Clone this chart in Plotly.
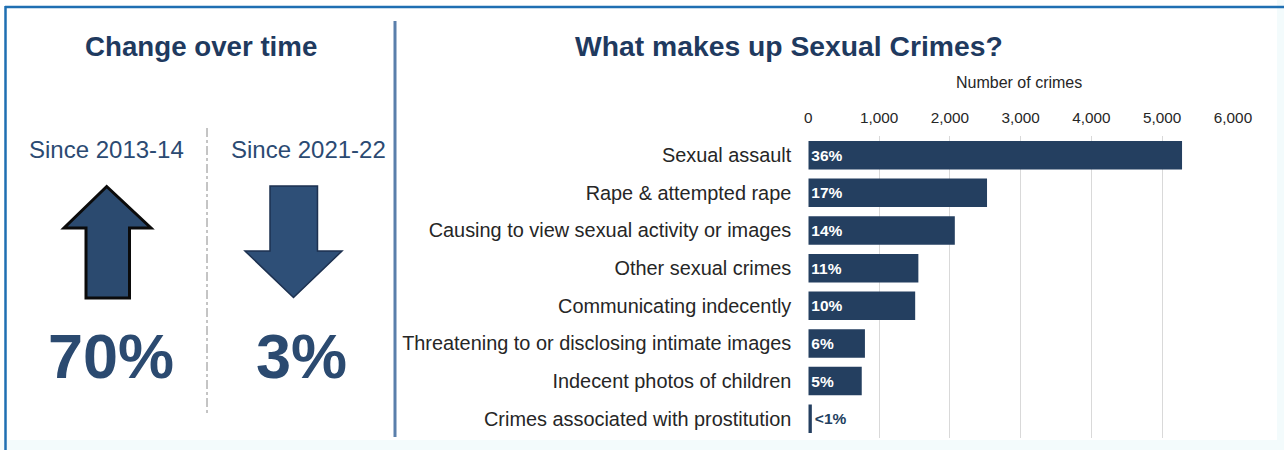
import plotly.graph_objects as go

W, H = 1284, 450

# ---- data -------------------------------------------------------------
categories = [
    "Sexual assault",
    "Rape & attempted rape",
    "Causing to view sexual activity or images",
    "Other sexual crimes",
    "Communicating indecently",
    "Threatening to or disclosing intimate images",
    "Indecent photos of children",
    "Crimes associated with prostitution",
]
crime_counts = [5280, 2525, 2070, 1555, 1510, 800, 755, 50]
share_labels = ["36%", "17%", "14%", "11%", "10%", "6%", "5%", "<1%"]
x_ticks = [0, 1000, 2000, 3000, 4000, 5000, 6000]

change_periods = ["Since 2013-14", "Since 2021-22"]
change_values = ["70%", "3%"]

# ---- styling ----------------------------------------------------------
FONT = "Arial, Liberation Sans, sans-serif"
NAVY = "#1f3a5f"
BAR = "#243f60"
NUM = "#2b4a70"


def px(x):
    return x / W


def py(y):
    return 1 - y / H


def path(points):
    pts = [f"{px(x):.5f},{py(y):.5f}" for x, y in points]
    return "M " + " L ".join(pts) + " Z"


fig = go.Figure()

# label inside the bar where it fits, outside for the tiny bar
positions = ["inside" if c > 300 else "outside" for c in crime_counts]
fig.add_trace(go.Bar(
    x=crime_counts,
    y=categories,
    orientation="h",
    marker=dict(color=BAR, line=dict(width=0)),
    text=[s.replace("<", "&lt;") for s in share_labels],
    textposition=positions,
    insidetextanchor="start",
    insidetextfont=dict(family=FONT, size=15.5, color="white", weight="bold"),
    outsidetextfont=dict(family=FONT, size=15.5, color=BAR, weight="bold"),
    cliponaxis=False,
    hoverinfo="x+y",
))

shapes = []
# panel background and frame
shapes.append(dict(type="rect", xref="paper", yref="paper", layer="below",
                   x0=0, x1=px(1277), y0=py(440), y1=1,
                   fillcolor="white", line=dict(width=0)))
shapes.append(dict(type="line", xref="paper", yref="paper",
                   x0=px(5), x1=1, y0=py(7), y1=py(7),
                   line=dict(color="#1f6fb2", width=2.5)))
shapes.append(dict(type="line", xref="paper", yref="paper",
                   x0=px(5.5), x1=px(5.5), y0=py(6), y1=0,
                   line=dict(color="#1f6fb2", width=2.5)))
# divider between the two panels
shapes.append(dict(type="line", xref="paper", yref="paper",
                   x0=px(395), x1=px(395), y0=py(21), y1=py(437),
                   line=dict(color="#5a7fab", width=3)))
# dash-dot divider between the two change figures
shapes.append(dict(type="line", xref="paper", yref="paper",
                   x0=px(207), x1=px(207), y0=py(128), y1=py(416),
                   line=dict(color="#8a8a8a", width=1, dash="dashdot")))

# up arrow
up = [(106.7, 186.5), (151, 228), (129.5, 228), (129.5, 298),
      (86, 298), (86, 228), (64, 228)]
shapes.append(dict(type="path", xref="paper", yref="paper", path=path(up),
                   fillcolor="#2b4a6f", line=dict(color="#0b0b0b", width=3)))
# down arrow
down = [(270, 186), (317.5, 186), (317.5, 251), (342, 251),
        (293.5, 297.5), (245, 251), (270, 251)]
shapes.append(dict(type="path", xref="paper", yref="paper", path=path(down),
                   fillcolor="#2e4f77", line=dict(color="#1d3150", width=1.5)))

annotations = []
annotations.append(dict(text="<b>Change over time</b>", x=px(201), y=py(46),
                        xref="paper", yref="paper", showarrow=False,
                        xanchor="center", yanchor="middle",
                        font=dict(family=FONT, size=27.7, color=NAVY)))
annotations.append(dict(text="<b>What makes up Sexual Crimes?</b>", x=px(789), y=py(46),
                        xref="paper", yref="paper", showarrow=False,
                        xanchor="center", yanchor="middle",
                        font=dict(family=FONT, size=28.3, color=NAVY)))
annotations.append(dict(text="Number of crimes", x=px(1019), y=py(83),
                        xref="paper", yref="paper", showarrow=False,
                        xanchor="center", yanchor="middle",
                        font=dict(family=FONT, size=16, color="#262626")))

for cx, nx, period, value in zip([106.5, 308], [111, 301], change_periods, change_values):
    annotations.append(dict(text=period, x=px(cx), y=py(150),
                            xref="paper", yref="paper", showarrow=False,
                            xanchor="center", yanchor="middle",
                            font=dict(family=FONT, size=24, color="#2b4a72")))
    annotations.append(dict(text=f"<b>{value}</b>", x=px(nx), y=py(356),
                            xref="paper", yref="paper", showarrow=False,
                            xanchor="center", yanchor="middle",
                            font=dict(family=FONT, size=63, color=NUM)))

fig.update_layout(
    width=W, height=H,
    autosize=False,
    margin=dict(l=0, r=0, t=0, b=0, autoexpand=False),
    paper_bgcolor="#f3fbfc",
    plot_bgcolor="rgba(0,0,0,0)",
    showlegend=False,
    bargap=0.243,
    shapes=shapes,
    annotations=annotations,
    xaxis=dict(
        domain=[px(808.3), px(1233)],
        range=[0, 6000],
        side="top",
        tickvals=x_ticks,
        tickformat=",",
        showgrid=True, gridcolor="#d9d9d9", gridwidth=1.3,
        zeroline=False, showline=False, ticks="",
        ticklabelstandoff=9,
        tickfont=dict(family=FONT, size=15.3, color="#262626"),
        automargin=False,
        fixedrange=True,
    ),
    yaxis=dict(
        domain=[py(437.5), py(136.4)],
        range=[7.5, -0.5],
        showgrid=False, zeroline=False, showline=False, ticks="",
        ticklabelstandoff=16,
        tickfont=dict(family=FONT, size=19.9, color="#262626"),
        automargin=False,
        fixedrange=True,
    ),
)

fig.write_html("out.html", config={"displayModeBar": False})
